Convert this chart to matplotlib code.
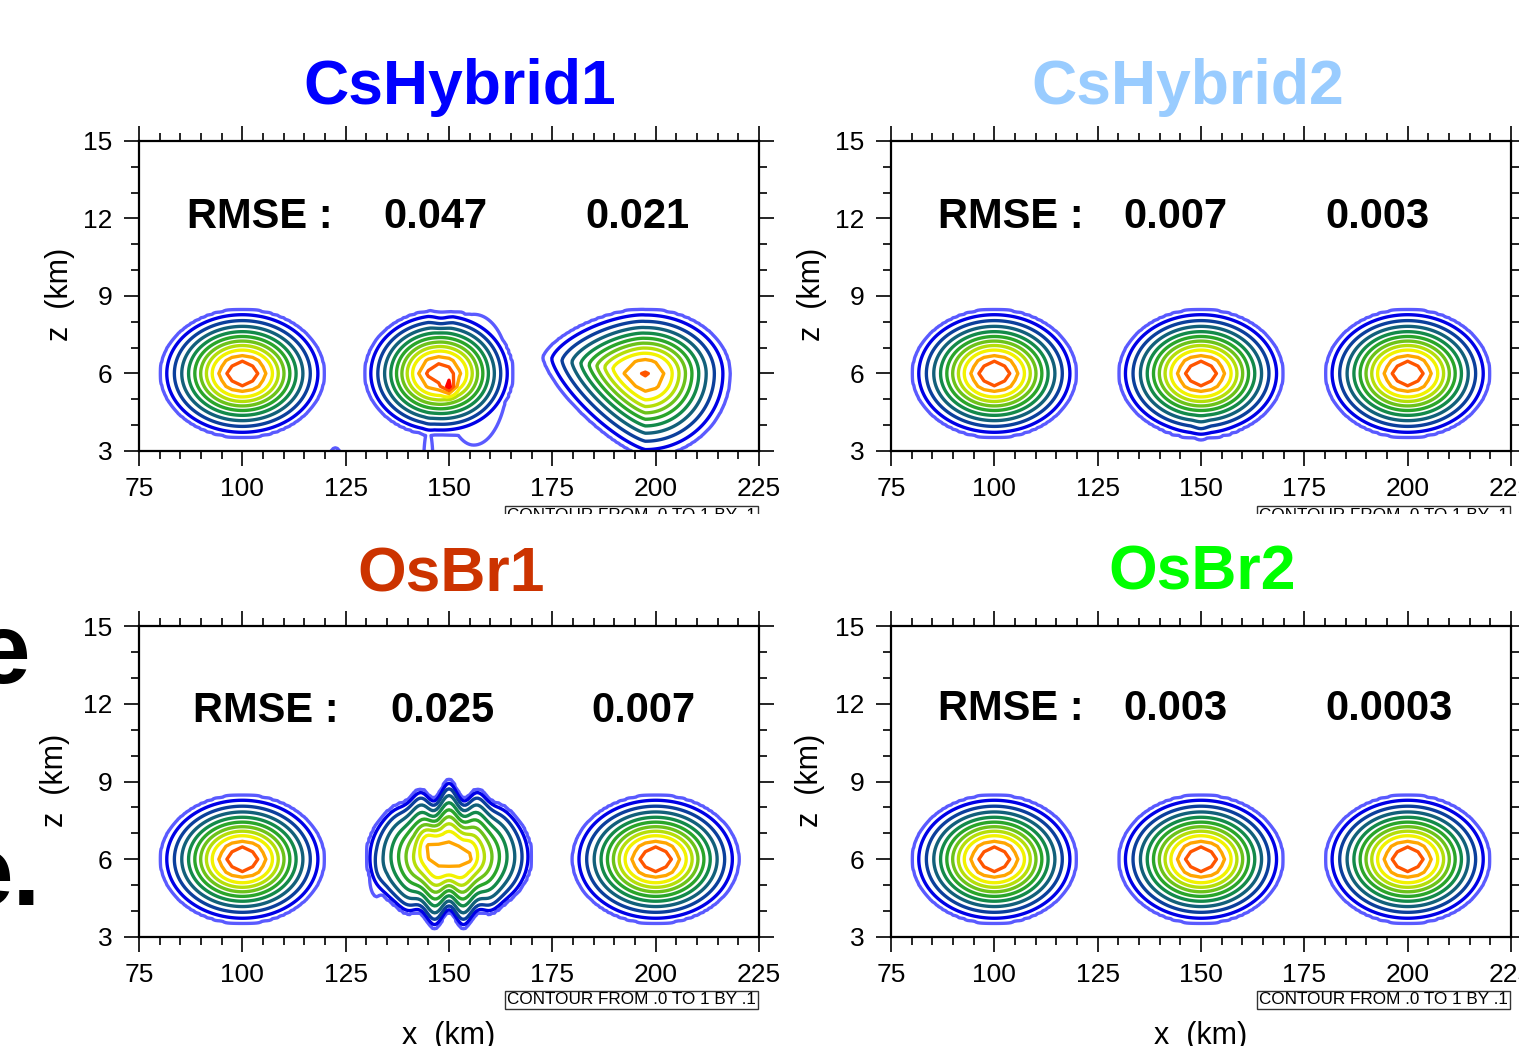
import numpy as np
import matplotlib.pyplot as plt
from matplotlib.patches import Rectangle
from matplotlib.ticker import MultipleLocator

plt.rcParams['font.family'] = ['Liberation Sans', 'DejaVu Sans']

W, H = 1519, 1046

titles = ["CsHybrid1", "CsHybrid2", "OsBr1", "OsBr2"]
title_colors = ["#0000ff", "#99ccff", "#cc3300", "#00ff00"]
rmse_first = ["0.047", "0.007", "0.025", "0.003"]
rmse_second = ["0.021", "0.003", "0.007", "0.0003"]

x_ticks = [75, 100, 125, 150, 175, 200, 225]
z_ticks = [3, 6, 9, 12, 15]

levels = [0.01, 0.1, 0.2, 0.3, 0.4, 0.5, 0.6, 0.7, 0.8, 0.9, 1.0, 1.1]
level_colors = ['#5a5aff', '#0000e6', '#0b3f9c', '#12607a', '#138a4a', '#2aa52a',
                '#6cc21a', '#b5de0a', '#f2f200', '#ffa500', '#ff5500', '#ff0000']

# tracer blobs:
# xc, zc, rx_left, rx_right, rz_top, rz_bottom, amp, p_left, tilt, finger, flat
blobs_cs1 = [
    (100.0, 6.0, 20.0, 20.0, 2.49, 2.49, 1.095, 2.0, 0.0, 0.0, 1.0),
    (147.5, 6.0, 18.0, 18.0, 2.45, 2.4, 1.07, 2.0, 0.0, 0.0, 1.0),
    (156.0, 6.1, 10.0, 11.0, 2.9, 3.8, 0.04, 2.0, 0.0, 0.0, 1.0),
    (148.0, 8.1, 3.0, 3.0, 0.6, 0.6, -0.04, 2.0, 0.0, 0.0, 1.0),
    (145.0, 2.5, 1.8, 1.8, 2.2, 2.2, 0.025, 2.0, 0.0, 0.0, 1.0),
    (122.5, 2.85, 1.8, 1.8, 0.4, 0.4, 0.03, 2.0, 0.0, 0.0, 1.0),
    (150.0, 5.5, 2.5, 2.5, 0.55, 0.55, 0.2, 2.0, 0.0, 0.0, 1.0),
    (197.5, 6.0, 25.0, 20.7, 2.5, 3.25, 1.01, 1.4, 0.025, 0.0, 1.0),
]
blobs_cs2 = [
    (100.0, 6.0, 20.0, 20.0, 2.49, 2.49, 1.095, 2.0, 0.0, 0.0, 1.0),
    (150.0, 6.0, 20.0, 20.0, 2.49, 2.49, 1.095, 2.0, 0.0, 0.0, 1.0),
    (150.0, 3.7, 12.0, 12.0, 0.35, 0.35, 0.015, 2.0, 0.0, 0.0, 1.0),
    (150.0, 3.9, 2.5, 2.5, 0.6, 0.6, 0.03, 2.0, 0.0, 0.0, 1.0),
    (200.0, 6.0, 20.0, 20.0, 2.49, 2.49, 1.095, 2.0, 0.0, 0.0, 1.0),
]
blobs_os1 = [
    (100.0, 6.0, 20.0, 20.0, 2.49, 2.49, 1.095, 2.0, 0.0, 0.0, 1.0),
    (150.0, 6.1, 20.0, 20.0, 2.6, 2.5, 0.97, 2.0, 0.0, 0.14, 0.75),
    (145.0, 6.7, 3.5, 3.5, 1.0, 1.0, 0.1, 2.0, 0.0, 0.0, 1.0),
    (155.0, 6.2, 2.5, 2.5, 0.7, 0.7, 0.07, 2.0, 0.0, 0.0, 1.0),
    (132.5, 5.3, 2.5, 2.5, 1.1, 1.1, 0.03, 2.0, 0.0, 0.0, 1.0),
    (200.0, 6.0, 20.3, 20.3, 2.49, 2.49, 1.095, 2.0, 0.0, 0.0, 1.0),
]
blobs_os2 = [
    (100.0, 6.0, 20.0, 20.0, 2.49, 2.49, 1.095, 2.0, 0.0, 0.0, 1.0),
    (150.0, 6.0, 20.0, 20.0, 2.49, 2.49, 1.095, 2.0, 0.0, 0.0, 1.0),
    (200.0, 6.0, 20.0, 20.0, 2.49, 2.49, 1.095, 2.0, 0.0, 0.0, 1.0),
]
panel_blobs = [blobs_cs1, blobs_cs2, blobs_os1, blobs_os2]

FINGER_WAVE = 7.5
FINGER_SPAN = 9.0
WIDTH = 0.65

# fine grid for the outer rings, coarse model grid for the peak rings
Xf, Zf = np.meshgrid(np.arange(60.0, 240.01, 0.5), np.arange(0.0, 16.01, 0.1))
Xc, Zc = np.meshgrid(np.arange(60.0, 240.01, 2.5), np.arange(0.0, 16.01, 0.5))


def tracer(X, Z, blobs):
    F = np.zeros_like(X)
    for xc, zc, rxl, rxr, rzt, rzb, amp, pl, tilt, fing, flat in blobs:
        dx = X - xc
        dz = Z - zc - tilt * np.clip(-dx, 0, None)
        rx = np.where(dx < 0, rxl, rxr)
        rz = np.where(dz > 0, rzt, rzb)
        if fing:
            wave = np.cos(2 * np.pi * dx / FINGER_WAVE) * np.exp(-(dx / FINGER_SPAN) ** 2)
            rz = rz * (1 + fing * np.sign(dz) * wave)
        p = np.where(dx < 0, pl, 2.0)
        r = (np.abs(dx / rx) ** p + np.abs(dz / rz) ** p) ** (1 / p)
        r = np.minimum(r, 1.0)
        b = np.exp(-(r / WIDTH) ** 2) * (1 - r ** 12)
        F += amp * b ** flat
    return F


# pixel layout
boxes = [(139, 141, 759, 451), (891, 141, 1511, 451),
         (139, 626, 759, 937), (891, 626, 1511, 937)]
title_x = [460, 1188, 451, 1202]
title_base = [104, 104, 591, 589]
rmse_label_x = [187, 938, 193, 938]
rmse_val1_x = [383, 1123, 390, 1123]
rmse_val2_x = [585, 1325, 591, 1325]
rmse_base = [228, 228, 722, 720]
ylab_pos = [(60, 294), (812, 294), (55, 780), (810, 780)]
note_y = [515, 515, 1000, 1000]


def fx(px):
    return px / W


def fy(py):
    return 1 - py / H


fig = plt.figure(figsize=(W / 100, H / 100), dpi=100)

for i in range(4):
    l, t, r, b = boxes[i]
    ax = fig.add_axes([fx(l), fy(b), (r - l) / W, (b - t) / H])
    Ff = tracer(Xf, Zf, panel_blobs[i])
    Fc = tracer(Xc, Zc, panel_blobs[i])
    ax.contour(Xf, Zf, Ff, levels=levels[:9], colors=level_colors[:9], linewidths=2.4)
    ax.contour(Xc, Zc, Fc, levels=levels[9:], colors=level_colors[9:], linewidths=2.4)
    ax.set_xlim(75, 225)
    ax.set_ylim(3, 15)
    ax.set_xticks(x_ticks)
    ax.set_yticks(z_ticks)
    ax.xaxis.set_minor_locator(MultipleLocator(5))
    ax.yaxis.set_minor_locator(MultipleLocator(1))
    ax.tick_params(which='both', direction='out', top=True, right=True,
                   labelsize=19, width=1.2, pad=8)
    ax.tick_params(which='major', length=11)
    ax.tick_params(which='minor', length=5.5)
    for s in ax.spines.values():
        s.set_linewidth(1.6)

    fig.text(fx(title_x[i]), fy(title_base[i]), titles[i], ha='center', va='baseline',
             fontsize=45, fontweight='bold', color=title_colors[i], zorder=3)
    fig.text(fx(rmse_label_x[i]), fy(rmse_base[i]), "RMSE :", ha='left', va='baseline',
             fontsize=30, fontweight='bold')
    fig.text(fx(rmse_val1_x[i]), fy(rmse_base[i]), rmse_first[i], ha='left', va='baseline',
             fontsize=30, fontweight='bold')
    fig.text(fx(rmse_val2_x[i]), fy(rmse_base[i]), rmse_second[i], ha='left', va='baseline',
             fontsize=30, fontweight='bold')
    fig.text(fx(ylab_pos[i][0]), fy(ylab_pos[i][1]), "z  (km)", rotation=90,
             ha='center', va='center', fontsize=22)
    fig.text(fx(r - 3), fy(note_y[i]), "CONTOUR FROM .0 TO 1 BY .1", ha='right', va='center',
             fontsize=12.3, zorder=1,
             bbox=dict(boxstyle='square,pad=0.1', fc='white', ec='#333333', lw=1.0))
    if i >= 2:
        fig.text(fx((l + r) / 2), fy(1044), "x  (km)", ha='center', va='baseline', fontsize=22)

# lower slide image hides the bottom of the upper notes
fig.add_artist(Rectangle((0, fy(608)), 1, (608 - 514) / H, transform=fig.transFigure,
                         fc='white', ec='none', zorder=2))

# slide text cut off at the left edge
fig.text(fx(30), fy(683), "e", ha='right', va='baseline', fontsize=72, fontweight='bold')
fig.text(fx(40), fy(905), "e.", ha='right', va='baseline', fontsize=72, fontweight='bold')

fig.savefig("out.png", dpi=100)
